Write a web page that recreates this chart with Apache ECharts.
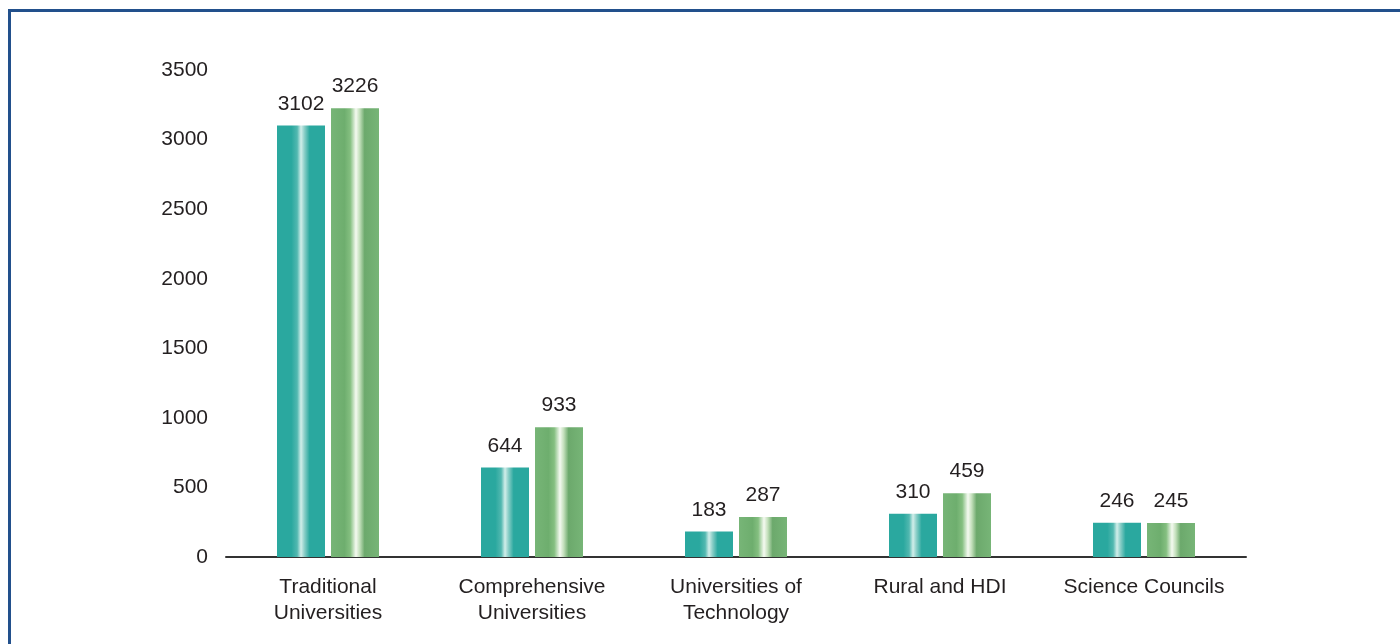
<!DOCTYPE html>
<html>
<head>
<meta charset="utf-8">
<script src="https://cdn.jsdelivr.net/npm/echarts@6/dist/echarts.min.js"></script>
<style>
html,body{margin:0;padding:0;background:#fff;}
#chart{width:1400px;height:644px;}
</style>
</head>
<body>
<div id="chart"></div>
<script>
const categories = ['Traditional\nUniversities', 'Comprehensive\nUniversities', 'Universities of\nTechnology', 'Rural and HDI', 'Science Councils'];
const seriesA = [3102, 644, 183, 310, 246];
const seriesB = [3226, 933, 287, 459, 245];
const yTicks = {min: 0, max: 3500, interval: 500};

function grad(stops) {
  return new echarts.graphic.LinearGradient(0, 0, 1, 0, stops.map(s => ({offset: s[0], color: s[1]})));
}
const tealGrad = grad([
  [0, '#2aa89f'], [0.3, '#2aa89f'], [0.42, '#52b8b0'], [0.5, '#d2eeea'], [0.57, '#8ccfc8'], [0.68, '#2aa89f'], [1, '#2aa89f']
]);
const greenGrad = grad([
  [0, '#77b577'], [0.28, '#6eae6e'], [0.4, '#84bf80'], [0.52, '#f5faf1'], [0.6, '#c2dfba'], [0.7, '#6ca96c'], [1, '#77b577']
]);

const chart = echarts.init(document.getElementById('chart'), null, {renderer: 'canvas'});
const labelFont = {fontFamily: '"Liberation Sans", Arial, sans-serif', fontSize: 21, color: '#231f20'};
chart.setOption({
  backgroundColor: '#fff',
  animation: false,
  graphic: [{
    type: 'rect', shape: {x: 9.5, y: 10.5, width: 1420, height: 700},
    style: {fill: 'none', stroke: '#22508c', lineWidth: 3}, silent: true
  }],
  grid: {left: 226, right: 154, top: 70, bottom: 87},
  xAxis: {
    type: 'category',
    data: categories,
    axisLine: {lineStyle: {color: '#333', width: 2}},
    axisTick: {show: false},
    axisLabel: Object.assign({margin: 17, lineHeight: 26, interval: 0}, labelFont),
    splitLine: {show: false}
  },
  yAxis: {
    type: 'value',
    min: yTicks.min, max: yTicks.max, interval: yTicks.interval,
    axisLine: {show: false},
    axisTick: {show: false},
    splitLine: {show: false},
    axisLabel: Object.assign({margin: 18, formatter: v => String(v)}, labelFont)
  },
  series: [
    {
      type: 'bar', data: seriesA, barWidth: 48, barGap: '12.5%',
      itemStyle: {color: tealGrad},
      label: Object.assign({show: true, position: 'top', distance: 11}, labelFont)
    },
    {
      type: 'bar', data: seriesB, barWidth: 48, barGap: '12.5%',
      itemStyle: {color: greenGrad},
      label: Object.assign({show: true, position: 'top', distance: 11}, labelFont)
    }
  ]
});
</script>
</body>
</html>
